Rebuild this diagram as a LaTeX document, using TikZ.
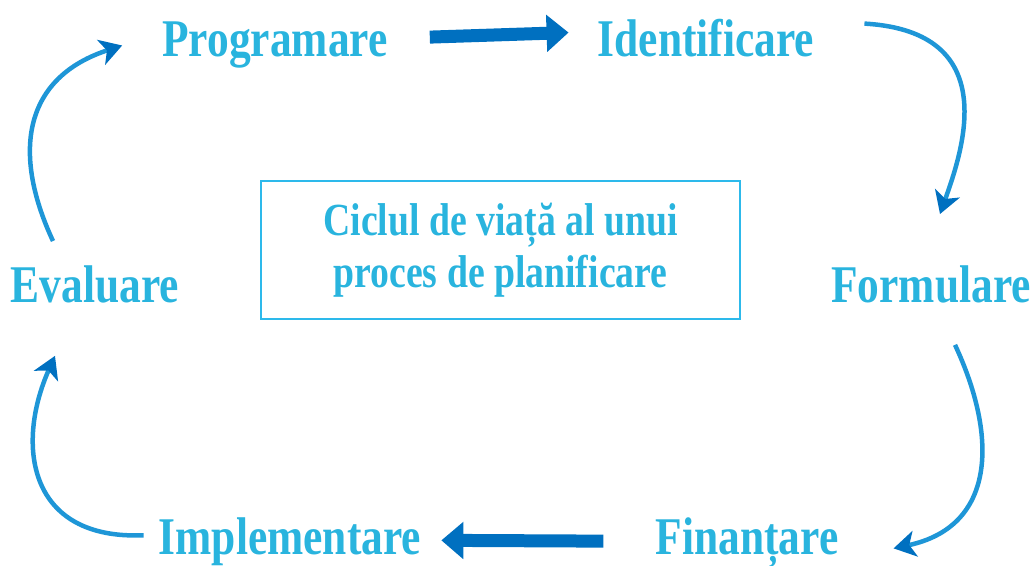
\documentclass[tikz,border=0pt]{standalone}
\usepackage{fontspec}
\newfontfamily\cyclefont{Liberation Serif}[FakeStretch=0.82]
\usetikzlibrary{arrows.meta}

\definecolor{labelblue}{RGB}{41,180,222}
\definecolor{boxblue}{RGB}{45,185,235}
\definecolor{arrowblue}{RGB}{0,112,192}
\definecolor{swooshblue}{RGB}{30,150,215}

\tikzset{
  stage/.style={text=labelblue, font=\cyclefont\bfseries\fontsize{53}{60}\selectfont, inner sep=0pt, anchor=base},
  titlebox/.style={draw=boxblue, line width=1.5pt, text=labelblue, align=center,
    minimum width=479pt, minimum height=138pt,
    font=\cyclefont\bfseries\fontsize{46}{52}\selectfont},
  flatarrow/.style={arrowblue, line width=13pt, -{Triangle[width=36pt,length=22pt]}},
  swoosh/.style={swooshblue, line width=4.5pt, looseness=1.25,
    -{Stealth[width=26pt,length=22pt,inset=6pt,color=arrowblue]}}
}

\begin{document}
\begin{tikzpicture}[x=1pt, y=1pt]
  \useasboundingbox (0,0) rectangle (1033,565);

  \node[titlebox] (cycle) at (500.5,315) {Ciclul de viață al unui\\proces de planificare};

  \node[stage] (prog)  at (275,508) {Programare};
  \node[stage] (ident) at (706,508) {Identificare};
  \node[stage] (form)  at (931,262) {Formulare};
  \node[stage] (fin)   at (747,11)  {Finanțare};
  \node[stage] (impl)  at (290,11)  {Implementare};
  \node[stage] (eval)  at (95,262)  {Evaluare};

  % straight arrows
  \draw[flatarrow, shorten <=42pt, shorten >=29pt] ([yshift=7pt]prog.east) -- ([yshift=7pt]ident.west);
  \draw[flatarrow, shorten <=52pt, shorten >=20pt] ([yshift=1pt]fin.west) -- ([yshift=1pt]impl.east);

  % curved arrows
  \draw[swoosh] ([shift={(50,15)}]ident.east) .. controls +(140,-8) and +(22,62) .. ([shift={(9,52)}]form.north);
  \draw[swoosh] ([shift={(24,-41)}]form.south) to[out=-65, in=12] ([shift={(55,-6)}]fin.east);
  \draw[swoosh] ([shift={(-15,6)}]impl.west) .. controls +(-115,-5) and +(-40,-90) .. ([shift={(-40,-52)}]eval.south);
  \draw[swoosh] ([shift={(-42,25)}]eval.north) to[out=115, in=198] ([xshift=-40pt]prog.west);
\end{tikzpicture}
\end{document}
